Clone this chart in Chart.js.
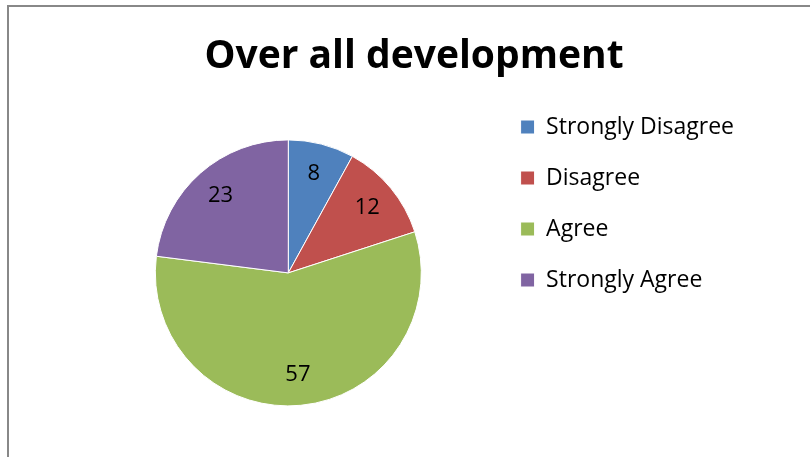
<!DOCTYPE html>
<html>
<head>
<meta charset="utf-8">
<script src="https://cdn.jsdelivr.net/npm/chart.js@4.4.1/dist/chart.umd.min.js"></script>
<style>
  body { margin: 0; background: #fff; }
  #frame { position: absolute; left: 7px; top: 5px; width: 900px; height: 600px;
           border-left: 2px solid #888; border-top: 2px solid #888; }
  #wrap { position: absolute; left: 0; top: 0; width: 810px; height: 457px; }
</style>
</head>
<body>
<div id="frame"></div>
<div id="wrap"><canvas id="devPie"></canvas></div>
<script>
const categories = ['Strongly Disagree', 'Disagree', 'Agree', 'Strongly Agree'];
const responses = [8, 12, 57, 23];
const sliceColors = ['#4F81BD', '#C0504D', '#9BBB59', '#8064A2'];

// writes each slice's value inside the slice
const sliceValues = {
  id: 'sliceValues',
  afterDatasetsDraw(chart) {
    const ctx = chart.ctx;
    const meta = chart.getDatasetMeta(0);
    ctx.save();
    ctx.font = '22px "Open Sans"';
    ctx.fillStyle = '#000';
    ctx.textAlign = 'center';
    ctx.textBaseline = 'middle';
    meta.data.forEach((arc, i) => {
      const p = arc.getProps(['x', 'y', 'startAngle', 'endAngle', 'outerRadius'], true);
      const mid = (p.startAngle + p.endAngle) / 2;
      const r = p.outerRadius * 0.77;
      ctx.fillText(String(chart.data.datasets[0].data[i]), p.x + Math.cos(mid) * r, p.y + Math.sin(mid) * r);
    });
    ctx.restore();
  }
};

new Chart(document.getElementById('devPie'), {
  type: 'pie',
  data: {
    labels: categories,
    datasets: [{
      data: responses,
      backgroundColor: sliceColors,
      borderColor: '#fff',
      borderWidth: 1
    }]
  },
  options: {
    responsive: true,
    maintainAspectRatio: false,
    animation: false,
    radius: 133,
    layout: {
      padding: { top: 25, bottom: 75, left: 84, right: 66 }
    },
    plugins: {
      title: {
        display: true,
        text: 'Over all development',
        color: '#000',
        font: { family: 'Open Sans', size: 39, weight: 'bold' },
        padding: { top: 8, bottom: 84 }
      },
      legend: {
        position: 'right',
        labels: {
          boxWidth: 14,
          boxHeight: 14,
          padding: 28,
          color: '#000',
          font: { family: 'Open Sans', size: 23 }
        }
      },
      tooltip: { enabled: false }
    }
  },
  plugins: [sliceValues]
});
</script>
</body>
</html>
